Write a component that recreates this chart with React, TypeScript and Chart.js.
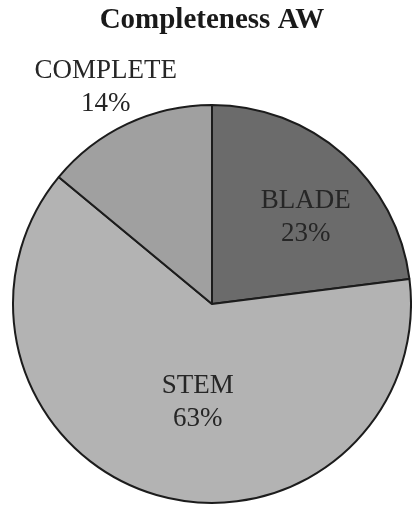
import React, { useEffect, useRef } from "react";
import { Chart, registerables } from "chart.js";

Chart.register(...registerables);

const categories = ["BLADE", "STEM", "COMPLETE"];
const percentages = [23, 63, 14];
const sliceColors = ["#6b6b6b", "#b3b3b3", "#a0a0a0"];
const chartTitle = "Completeness AW";

// label placement: radial factor of the radius and angular tweak (degrees)
const labelRadial = [0.64, 0.5, 1.21];
const labelAngleTweak = [6, -8, -1];

const labelPlugin = {
  id: "sliceLabels",
  afterDatasetsDraw(chart: any) {
    const ctx = chart.ctx;
    const meta = chart.getDatasetMeta(0);
    ctx.save();
    ctx.font = "27px 'Liberation Serif', 'Times New Roman', serif";
    ctx.fillStyle = "#262626";
    ctx.textAlign = "center";
    ctx.textBaseline = "middle";
    meta.data.forEach((arc: any, i: number) => {
      const p = arc.getProps(["x", "y", "startAngle", "endAngle", "outerRadius"], true);
      const mid = (p.startAngle + p.endAngle) / 2 + (labelAngleTweak[i] * Math.PI) / 180;
      const r = p.outerRadius * labelRadial[i];
      const cx = p.x + Math.cos(mid) * r;
      const cy = p.y + Math.sin(mid) * r;
      ctx.fillText(categories[i], cx, cy - 16.5);
      ctx.fillText(percentages[i] + "%", cx, cy + 16.5);
    });
    ctx.restore();
  },
};

export default function App() {
  const ref = useRef<HTMLCanvasElement>(null);
  useEffect(() => {
    if (!ref.current) return;
    const chart = new Chart(ref.current, {
      type: "pie",
      data: {
        labels: categories,
        datasets: [
          {
            data: percentages,
            backgroundColor: sliceColors,
            borderColor: "#1c1c1c",
            borderWidth: 2,
          },
        ],
      },
      options: {
        responsive: false,
        animation: false,
        layout: { padding: { left: 12, right: 0, top: 0, bottom: 6 } },
        plugins: {
          legend: { display: false },
          tooltip: { enabled: false },
          title: {
            display: true,
            text: chartTitle,
            color: "#1a1a1a",
            font: { family: "'Liberation Serif', 'Times New Roman', serif", size: 29, weight: "bold" },
            padding: { top: 3, bottom: 66 },
          },
        },
      },
      plugins: [labelPlugin],
    });
    return () => chart.destroy();
  }, []);
  return (
    <div style={{ position: "absolute", left: 0, top: 0, width: 412, height: 510, background: "#fff" }}>
      <canvas ref={ref} width={412} height={510} />
    </div>
  );
}
